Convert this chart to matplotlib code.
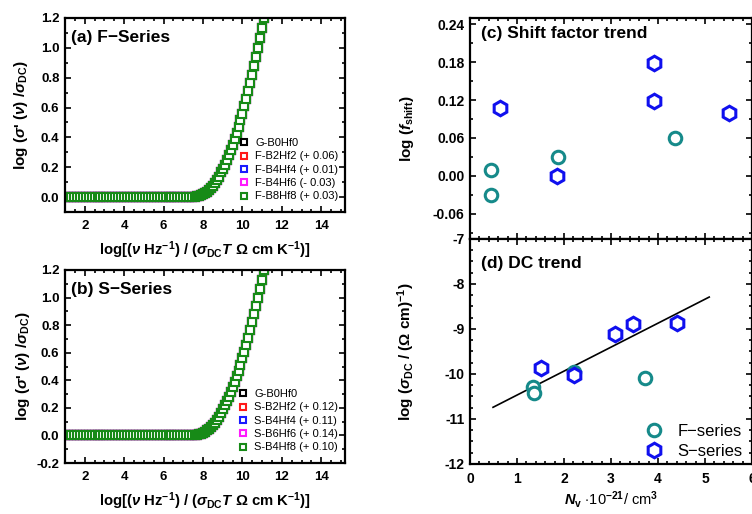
import matplotlib
matplotlib.use("Agg")
import matplotlib.pyplot as plt
from matplotlib.ticker import MultipleLocator

plt.rcParams['font.family'] = ['Liberation Sans', 'DejaVu Sans']
plt.rcParams['font.weight'] = 'bold'
plt.rcParams['mathtext.fontset'] = 'custom'
plt.rcParams['mathtext.rm'] = 'Liberation Sans:bold'
plt.rcParams['mathtext.it'] = 'Liberation Sans:italic:bold'
plt.rcParams['mathtext.bf'] = 'Liberation Sans:bold'
plt.rcParams['mathtext.sf'] = 'Liberation Sans:bold'
plt.rcParams['axes.unicode_minus'] = True

# ---------------- data ----------------
# master curve (scaled conductivity) (a) and (b)
x_master = [1.0, 1.15, 1.3, 1.45, 1.6, 1.75, 1.9, 2.05, 2.2, 2.35, 2.5, 2.65, 2.8, 2.95,
            3.1, 3.25, 3.4, 3.55, 3.7, 3.85, 4.0, 4.15, 4.3, 4.45, 4.6, 4.75, 4.9, 5.05,
            5.2, 5.35, 5.5, 5.65, 5.8, 5.95, 6.1, 6.25, 6.4, 6.55, 6.7, 6.85, 7.0, 7.15,
            7.3, 7.45, 7.6, 7.7, 7.8, 7.9, 8.0, 8.1, 8.2, 8.3, 8.4, 8.5, 8.6, 8.7, 8.8,
            8.9, 9.0, 9.1, 9.2, 9.3, 9.4, 9.5, 9.6, 9.7, 9.8, 9.9, 10.0, 10.1, 10.2, 10.3,
            10.4, 10.5, 10.6, 10.7, 10.8, 10.9, 11.0, 11.1, 11.2]
y_master = [0.0, 0.0, 0.0, 0.0, 0.0, 0.0, 0.0, 0.0, 0.0, 0.0, 0.0, 0.0, 0.0, 0.0,
            0.0, 0.0, 0.0, 0.0, 0.0, 0.0, 0.0, 0.0, 0.0, 0.0, 0.0, 0.0, 0.0, 0.0,
            0.0, 0.0, 0.0, 0.0, 0.0, 0.0, 0.0, 0.0, 0.0, 0.0, 0.0, 0.0, 0.0, 0.001,
            0.001, 0.002, 0.003, 0.005, 0.008, 0.013, 0.020, 0.028, 0.037, 0.048, 0.061,
            0.076, 0.093, 0.113, 0.136, 0.165, 0.190, 0.218, 0.248, 0.280, 0.314, 0.350,
            0.388, 0.428, 0.470, 0.514, 0.560, 0.608, 0.658, 0.710, 0.764, 0.820, 0.878,
            0.938, 1.000, 1.064, 1.130, 1.198, 1.268]

f_labels = ['G-B0Hf0', 'F-B2Hf2 (+ 0.06)', 'F-B4Hf4 (+ 0.01)', 'F-B4Hf6 (- 0.03)', 'F-B8Hf8 (+ 0.03)']
s_labels = ['G-B0Hf0', 'S-B2Hf2 (+ 0.12)', 'S-B4Hf4 (+ 0.11)', 'S-B6Hf6 (+ 0.14)', 'S-B4Hf8 (+ 0.10)']
series_colors = ['black', '#ff1a1a', '#1a1aff', '#ff1aff', '#178a17']

# panel (c): shift factors
shift_f_x = [0.45, 0.45, 1.87, 4.36]
shift_f_y = [0.01, -0.03, 0.03, 0.06]
shift_s_x = [0.64, 1.85, 3.91, 3.91, 5.51]
shift_s_y = [0.108, 0.0, 0.178, 0.118, 0.099]

# panel (d): DC conductivity
dc_f_x = [1.35, 1.36, 2.21, 3.72]
dc_f_y = [-10.28, -10.42, -9.95, -10.08]
dc_s_x = [1.50, 2.21, 3.08, 3.46, 4.40]
dc_s_y = [-9.86, -10.02, -9.11, -8.88, -8.87]
fit_x = [0.49, 5.09]
fit_y = [-10.74, -8.29]

teal = '#168a8a'
blue = '#1010ee'

# ---------------- figure ----------------
W, H = 752, 514
fig = plt.figure(figsize=(W / 100, H / 100), dpi=100)

def rect(l, t, r, b):
    return [l / W, 1 - b / H, (r - l) / W, (b - t) / H]

ax_a = fig.add_axes(rect(65, 18, 345, 212))
ax_b = fig.add_axes(rect(65, 270, 345, 463))
ax_c = fig.add_axes(rect(470, 18, 752, 239))
ax_d = fig.add_axes(rect(470, 239, 752, 464))

def style(ax, size=10):
    for sp in ax.spines.values():
        sp.set_linewidth(1.6)
    ax.tick_params(which='both', direction='in', top=True, right=True, width=1.2)
    ax.tick_params(which='major', length=4, labelsize=size, pad=4)
    ax.tick_params(which='minor', length=2.5)
    for lab in ax.get_xticklabels() + ax.get_yticklabels():
        lab.set_fontweight('bold')

xlabel_ab = r'log[($\nu$ Hz$^{-1}$) / ($\sigma_{\rm DC}$$\it{T}$ $\Omega$ cm K$^{-1}$)]'
ylabel_ab = r"log ($\sigma$' ($\nu$) /$\sigma_{\rm DC}$)"

for ax, labels, title, ylo, ypad in [(ax_a, f_labels, '(a) F\u2212Series', -0.1, 8),
                                     (ax_b, s_labels, '(b) S\u2212Series', -0.2, 3)]:
    for lab, col in zip(labels, series_colors):
        ax.plot(x_master, y_master, linestyle='none', marker='s', ms=5.2,
                mfc='white', mec=col, mew=1.5, label=lab, clip_on=True)
    ax.set_xlim(1, 15.2)
    ax.set_ylim(ylo, 1.2)
    ax.xaxis.set_major_locator(MultipleLocator(2))
    ax.xaxis.set_minor_locator(MultipleLocator(0.5))
    ax.yaxis.set_major_locator(MultipleLocator(0.2))
    ax.yaxis.set_minor_locator(MultipleLocator(0.1))
    ax.yaxis.set_major_formatter(matplotlib.ticker.FormatStrFormatter('%.1f'))
    style(ax, size=9.5)
    ax.set_xticks([2, 4, 6, 8, 10, 12, 14])
    ax.tick_params(axis='x', pad=6)
    ax.set_xlabel(xlabel_ab, fontsize=10.7, fontweight='bold', labelpad=5)
    ax.set_ylabel(ylabel_ab, fontsize=11, fontweight='bold', labelpad=ypad)
    ax.text(0.02, 0.9, title, transform=ax.transAxes, fontsize=12.5, fontweight='bold',
            ha='left', va='center')
    leg = ax.legend(loc='lower right', bbox_to_anchor=(1.0, 0.02), fontsize=8,
                    frameon=False, handletextpad=0.5, labelspacing=0.3,
                    handlelength=1.0, markerscale=0.9, borderaxespad=0.2)
    for t in leg.get_texts():
        t.set_fontweight('normal')

# panel (c)
ax_c.plot(shift_f_x, shift_f_y, linestyle='none', marker='o', ms=9, mfc='white',
          mec=teal, mew=2.2)
ax_c.plot(shift_s_x, shift_s_y, linestyle='none', marker='h', ms=10.5, mfc='white',
          mec=blue, mew=2.2)
ax_c.set_xlim(0, 6)
ax_c.set_ylim(-0.1, 0.25)
ax_c.xaxis.set_major_locator(MultipleLocator(1))
ax_c.xaxis.set_minor_locator(MultipleLocator(0.2))
ax_c.set_yticks([-0.06, 0.0, 0.06, 0.12, 0.18, 0.24])
ax_c.yaxis.set_minor_locator(MultipleLocator(0.03))
ax_c.yaxis.set_major_formatter(matplotlib.ticker.FormatStrFormatter('%.2f'))
style(ax_c, size=10)
ax_c.tick_params(axis='x', labelbottom=False)
ax_c.set_ylabel(r'log ($\it{f}$$_{\rm shift}$)', fontsize=11, fontweight='bold', labelpad=12)
ax_c.text(0.04, 0.93, '(c) Shift factor trend', transform=ax_c.transAxes, fontsize=12.5,
          fontweight='bold', ha='left', va='center')

# panel (d)
ax_d.plot(fit_x, fit_y, color='black', lw=1.2)
ax_d.plot(dc_f_x, dc_f_y, linestyle='none', marker='o', ms=9, mfc='white',
          mec=teal, mew=2.2, label='F\u2212series')
ax_d.plot(dc_s_x, dc_s_y, linestyle='none', marker='h', ms=10.5, mfc='white',
          mec=blue, mew=2.2, label='S\u2212series')
ax_d.set_xlim(0, 6)
ax_d.set_ylim(-12, -7)
ax_d.xaxis.set_major_locator(MultipleLocator(1))
ax_d.xaxis.set_minor_locator(MultipleLocator(0.2))
ax_d.yaxis.set_major_locator(MultipleLocator(1))
ax_d.yaxis.set_minor_locator(MultipleLocator(0.25))
ax_d.yaxis.set_major_formatter(matplotlib.ticker.FuncFormatter(lambda v, p: '%d' % v))
style(ax_d, size=10)
ax_d.tick_params(axis='x', pad=6)
ax_d.set_xlabel(r'$\it{N}$$_{\rm v}$ $\cdot$10$^{-21}$/ cm$^3$', fontsize=10.5, labelpad=2)
ax_d.set_ylabel(r'log ($\sigma_{\rm DC}$ / ($\Omega$ cm)$^{-1}$)', fontsize=11,
                fontweight='bold', labelpad=20)
ax_d.text(0.04, 0.89, '(d) DC trend', transform=ax_d.transAxes, fontsize=12.5,
          fontweight='bold', ha='left', va='center')
legd = ax_d.legend(loc='lower right', bbox_to_anchor=(1.02, -0.045), fontsize=12,
                   frameon=False, handletextpad=0.8, labelspacing=0.3, handlelength=1.2)
for t in legd.get_texts():
    t.set_fontweight('normal')

fig.savefig('out.png', dpi=100)
